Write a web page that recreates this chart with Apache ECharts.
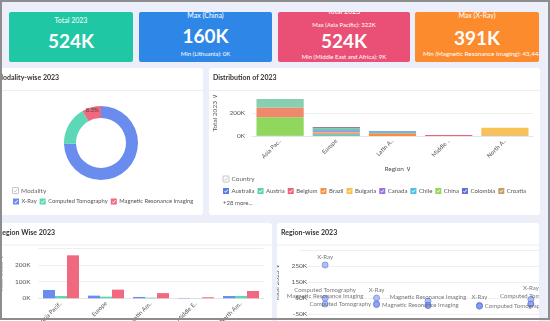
<!DOCTYPE html>
<html>
<head>
<meta charset="utf-8">
<title>Imaging Volume 2023</title>
<script src="https://cdn.jsdelivr.net/npm/echarts@6.0.0/dist/echarts.min.js"></script>
<style>
  html, body { margin: 0; padding: 0; }
  body { position: relative; width: 550px; height: 321px; overflow: hidden; background: #eceff9; font-family: Lato, 'Noto Sans', sans-serif; }
  .card { position: absolute; top: 12px; height: 50px; overflow: hidden; border-radius: 2px; color: #fff; }
  .card .t { position: absolute; left: 0; right: 0; text-align: center; white-space: nowrap; line-height: 1; }
  .card .s7 { font-size: 7px; }
  .card .s6 { font-size: 6px; }
  .card .big { font-size: 19px; font-weight: 700; }
  .panel { position: absolute; background: #fff; border-radius: 3px; overflow: hidden; }
  .frame { position: absolute; left: 0; top: 0; width: 550px; height: 320px; box-sizing: border-box; border: 2px solid #8d8d8d; pointer-events: none; }
</style>
</head>
<body>

<div class="card" style="left:9px;width:124px;background:#20c7a5">
  <div class="t s7" style="top:5px">Total 2023</div>
  <div class="t big" style="top:19px" id="totalValue"></div>
</div>
<div class="card" style="left:139px;width:133px;background:#2e87e7">
  <div class="t s7" style="top:0px" id="countryMaxTitle"></div>
  <div class="t big" style="top:14px" id="countryMaxValue"></div>
  <div class="t s6" style="top:39px" id="countryMin"></div>
</div>
<div class="card" style="left:278px;width:132px;background:#ea4f75">
  <div class="t s7" style="top:-4px">Total 2023</div>
  <div class="t s6" style="top:9.5px" id="regionMax"></div>
  <div class="t big" style="top:18.5px" id="regionTotal"></div>
  <div class="t s6" style="top:42px" id="regionMin"></div>
</div>
<div class="card" style="left:415px;width:124px;background:#fb8b2d">
  <div class="t s7" style="top:0px" id="modalityMaxTitle"></div>
  <div class="t big" style="top:15.5px" id="modalityMaxValue"></div>
  <div class="t s6" style="top:39px;text-align:left;padding-left:8px;font-size:6.3px" id="modalityMin"></div>
</div>

<div class="panel" id="modalityPanel" style="left:-6px;top:68px;width:209px;height:147px"></div>
<div class="panel" id="distributionPanel" style="left:209px;top:68px;width:331px;height:147px"></div>
<div class="panel" id="regionBarPanel" style="left:-6px;top:223px;width:278px;height:100px"></div>
<div class="panel" id="regionScatterPanel" style="left:277px;top:223px;width:262px;height:100px"></div>

<div class="frame"></div>

<script>
// ---- 2023 imaging volumes (thousands) ----
const regions = ['Asia Pacific', 'Europe', 'Latin America', 'Middle East and Africa', 'North America'];
const modalities = ['X-Ray', 'Computed Tomography', 'Magnetic Resonance Imaging'];

// per region, per modality
const xRay2023 = [258, 52, 31, 6, 44];
const ct2023 = [50, 16, 8, 2, 13.6];
const mri2023 = [14, 10, 4, 1, 14.448];

// per country
const countries = ['Australia', 'Austria', 'Belgium', 'Brazil', 'Bulgaria', 'Canada', 'Chile', 'China', 'Colombia', 'Croatia',
  'Argentina', 'France', 'Germany', 'India', 'Italy', 'Japan', 'Lithuania', 'Saudi Arabia', 'United States'];
const countryRegion = ['Asia Pacific', 'Europe', 'Europe', 'Latin America', 'Europe', 'North America', 'Latin America', 'Asia Pacific', 'Latin America', 'Europe',
  'Latin America', 'Europe', 'Europe', 'Asia Pacific', 'Europe', 'Asia Pacific', 'Europe', 'Middle East and Africa', 'North America'];
const countryTotal = [2, 15, 9, 25, 6, 4, 7, 160, 6, 7,
  5, 14, 17, 85, 10, 75, 0, 9, 68];

// ---- styling ----
const countryColors = ['#5a7fe4', '#5ccfb3', '#ef6079', '#f6903f', '#fbbf4c', '#9a70e2', '#4cc0e4', '#8fd85d', '#6470d4', '#c49c60',
  '#5b9ee0', '#7088e3', '#66cdb5', '#ee8a6b', '#a27b8e', '#86cfb1', '#d07fd0', '#ef5f78', '#f8c257'];
const modalityColors = { 'X-Ray': '#6b8cef', 'Computed Tomography': '#5dd8b7', 'Magnetic Resonance Imaging': '#f1697e' };
const barColors = ['#6b8cef', '#5dd8b7', '#f1697e'];
const fontFamily = 'Lato, "Noto Sans", sans-serif';
const checkIcon = 'path://M0,0L10,0L10,10L0,10Z M2,5.6L4.3,7.9L8.4,3.5L7.4,2.6L4.3,6.1L3,4.8Z';
const kFmt = v => v + 'K';

const sum = a => a.reduce((s, v) => s + v, 0);
const modalityTotals = [sum(xRay2023), sum(ct2023), sum(mri2023)];
const regionTotals = regions.map(r => sum(countryTotal.filter((v, i) => countryRegion[i] === r)));
const grandTotal = sum(countryTotal);

// ---- KPI cards ----
function argMax(a) { let k = 0; a.forEach((v, i) => { if (v > a[k]) k = i; }); return k; }
function argMin(a) { let k = 0; a.forEach((v, i) => { if (v < a[k]) k = i; }); return k; }
const setText = (id, t) => { document.getElementById(id).textContent = t; };
const kText = v => Math.round(v) + 'K';

setText('totalValue', kText(grandTotal));
const cMax = argMax(countryTotal), cMin = argMin(countryTotal);
setText('countryMaxTitle', 'Max (' + countries[cMax] + ')');
setText('countryMaxValue', kText(countryTotal[cMax]));
setText('countryMin', 'Min (' + countries[cMin] + '): ' + kText(countryTotal[cMin]));
const rMax = argMax(regionTotals), rMin = argMin(regionTotals);
setText('regionMax', 'Max (' + regions[rMax] + '): ' + kText(regionTotals[rMax]));
setText('regionTotal', kText(sum(regionTotals)));
setText('regionMin', 'Min (' + regions[rMin] + '): ' + kText(regionTotals[rMin]));
const mMax = argMax(modalityTotals), mMin = argMin(modalityTotals);
setText('modalityMaxTitle', 'Max (' + modalities[mMax] + ')');
setText('modalityMaxValue', kText(modalityTotals[mMax]));
setText('modalityMin', 'Min (' + modalities[mMin] + '): ' + Math.round(modalityTotals[mMin] * 1000).toLocaleString('en-US'));

// ---- shared chart pieces ----
function panelTitle(text, left) {
  return { text, left, top: 6.5, padding: 0, textStyle: { fontSize: 7, fontWeight: 'bold', color: '#333', fontFamily } };
}
function separator(width, y) {
  return { type: 'line', silent: true, shape: { x1: 0, y1: y, x2: width, y2: y }, style: { stroke: '#eceef4', lineWidth: 1 } };
}
function legendHeader(x, y, label) {
  return [
    { type: 'rect', shape: { x, y, width: 6, height: 6, r: 0.6 }, style: { fill: '#fff', stroke: '#aaaaaa', lineWidth: 0.7 } },
    { type: 'polyline', shape: { points: [[x + 1.4, y + 3.1], [x + 2.6, y + 4.4], [x + 4.8, y + 1.6]] }, style: { stroke: '#b3b3b3', lineWidth: 0.7, fill: null } },
    { type: 'text', x: x + 8.5, y: y + 3, style: { text: label, fontSize: 6.5, fill: '#666', fontFamily, verticalAlign: 'middle' } }
  ];
}
function checkLegend(names, left, top, gap, fontSize) {
  return { data: names, left, top, padding: 0, icon: checkIcon, itemWidth: 6, itemHeight: 6, itemGap: gap, width: 600,
    selectedMode: false, textStyle: { fontSize, color: '#555', fontFamily, padding: [0, 0, 0, -2.5] } };
}

// ---- Modality-wise donut ----
const modalityChart = echarts.init(document.getElementById('modalityPanel'), null, { renderer: 'canvas' });
modalityChart.setOption({
  animation: false,
  textStyle: { fontFamily },
  title: panelTitle('Modality-wise 2023', 2.5),
  graphic: [separator(209, 22.5), ...legendHeader(18.5, 119.5, 'Modality')],
  legend: checkLegend(modalities, 19, 130.5, 3, 5.8),
  series: [{
    type: 'pie',
    radius: [25, 37],
    center: [107, 75],
    startAngle: 90,
    percentPrecision: 1,
    avoidLabelOverlap: false,
    label: { show: false },
    labelLine: { show: false },
    data: modalities.map((m, i) => ({
      name: m,
      value: modalityTotals[i],
      itemStyle: { color: modalityColors[m] },
      label: m === 'Magnetic Resonance Imaging'
        ? { show: true, position: 'inside', formatter: '{d}%', fontSize: 6, color: '#444' }
        : { show: false }
    }))
  }]
});

// ---- Distribution of 2023 (stacked by country) ----
const distChart = echarts.init(document.getElementById('distributionPanel'));
distChart.setOption({
  animation: false,
  textStyle: { fontFamily },
  title: panelTitle('Distribution of 2023', 4),
  graphic: [
    separator(331, 22.5),
    ...legendHeader(14, 108, 'Country'),
    { type: 'text', x: 14, y: 135, style: { text: '+28 more...', fontSize: 6, fill: '#555', fontFamily, verticalAlign: 'middle' } }
  ],
  legend: checkLegend(countries.slice(0, 10), 14, 120, 3, 6),
  grid: { left: 43, right: 7, top: 22, bottom: 79, outerBoundsMode: 'none' },
  xAxis: {
    type: 'category',
    data: regions,
    name: 'Region ∨',
    nameLocation: 'middle',
    nameGap: 29,
    nameTextStyle: { fontSize: 6.5, color: '#555', padding: [0, 0, 0, 10] },
    axisTick: { show: false },
    axisLine: { lineStyle: { color: '#e6e6e6' } },
    axisLabel: { rotate: 45, interval: 0, fontSize: 6, color: '#555', width: 27, overflow: 'truncate', ellipsis: '..', margin: 4 }
  },
  yAxis: {
    type: 'value',
    min: 0, max: 400, interval: 200,
    name: 'Total 2023 ∨',
    nameLocation: 'middle',
    nameGap: 31,
    nameTextStyle: { fontSize: 6.5, color: '#555' },
    axisLabel: { formatter: kFmt, fontSize: 6.5, color: '#555', showMaxLabel: false, margin: 7 },
    splitLine: { lineStyle: { color: '#efefef' } }
  },
  series: countries.map((c, i) => ({
    type: 'bar',
    name: c,
    stack: 'total',
    barCategoryGap: '16%',
    itemStyle: { color: countryColors[i] },
    data: regions.map(r => (r === countryRegion[i] ? countryTotal[i] : null))
  }))
});

// ---- Region Wise 2023 (grouped by modality) ----
const barOrder = ['Computed Tomography', 'Magnetic Resonance Imaging', 'X-Ray'];
const byModality = { 'X-Ray': xRay2023, 'Computed Tomography': ct2023, 'Magnetic Resonance Imaging': mri2023 };
const regionBarChart = echarts.init(document.getElementById('regionBarPanel'));
regionBarChart.setOption({
  animation: false,
  textStyle: { fontFamily },
  title: panelTitle('Region Wise 2023', 4),
  graphic: [separator(278, 22)],
  grid: { left: 44.5, right: 8.5, top: 25.3, bottom: 24.7, outerBoundsMode: 'none' },
  xAxis: {
    type: 'category',
    data: regions,
    axisTick: { show: false },
    axisLine: { lineStyle: { color: '#e6e6e6' } },
    axisLabel: { rotate: 45, interval: 0, fontSize: 6, color: '#555', width: 30, overflow: 'truncate', ellipsis: '..', margin: 4 }
  },
  yAxis: {
    type: 'value',
    min: 0, max: 300, interval: 100,
    name: 'Total 2023 ∨',
    nameLocation: 'middle',
    nameGap: 24,
    nameTextStyle: { fontSize: 6.5, color: '#aaa' },
    axisLabel: { formatter: kFmt, fontSize: 6.5, color: '#555', showMaxLabel: false, margin: 8 },
    splitLine: { lineStyle: { color: '#efefef' } }
  },
  series: barOrder.map((m, i) => ({
    type: 'bar',
    name: m,
    barGap: '0%',
    barCategoryGap: '20%',
    itemStyle: { color: barColors[i] },
    data: byModality[m]
  }))
});

// ---- Region-wise 2023 (scatter, labelled by modality) ----
// label placement per region; a few labels are nudged so neighbours stay readable
const labelPlacement = {
  'X-Ray': ['top', 'top', null, 'top', 'top'],
  'Computed Tomography': ['top', 'left', null, 'right', 'top'],
  'Magnetic Resonance Imaging': ['top', 'right', 'top', null, null]
};
const labelNudge = {
  'X-Ray': [null, null, null, null, { distance: 5 }],
  'Computed Tomography': [null, null, null, null, { offset: [-14, 0] }],
  'Magnetic Resonance Imaging': [null, null, null, null, null]
};
const scatterChart = echarts.init(document.getElementById('regionScatterPanel'));
scatterChart.setOption({
  animation: false,
  textStyle: { fontFamily },
  title: panelTitle('Region-wise 2023', 4),
  graphic: [separator(262, 22)],
  grid: { left: 22.4, right: -17.6, top: 27.3, bottom: 8.7, outerBoundsMode: 'none' },
  xAxis: {
    type: 'category',
    data: regions,
    axisTick: { show: false },
    axisLine: { show: false, onZero: false },
    axisLabel: { show: false },
    splitLine: { show: false }
  },
  yAxis: {
    type: 'value',
    min: -50, max: 350, interval: 100,
    name: 'Total 2023 ∨',
    nameLocation: 'middle',
    nameGap: 14,
    nameTextStyle: { fontSize: 6.5, color: '#555' },
    axisLabel: { formatter: kFmt, fontSize: 6.5, color: '#555', showMaxLabel: false, margin: -7.6 },
    splitLine: { lineStyle: { color: '#efefef' } }
  },
  series: modalities.map(m => ({
    type: 'scatter',
    name: m,
    symbolSize: 6,
    clip: false,
    labelLayout: { hideOverlap: false },
    itemStyle: { color: 'rgba(125,150,236,0.75)', borderColor: '#5e7be0', borderWidth: 0.8 },
    data: byModality[m].map((v, i) => ({
      value: v,
      label: labelPlacement[m][i]
        ? Object.assign({ show: true, position: labelPlacement[m][i], distance: 2, formatter: '{a}', fontSize: 6, color: '#555' }, labelNudge[m][i] || {})
        : { show: false }
    }))
  }))
});
</script>
</body>
</html>
